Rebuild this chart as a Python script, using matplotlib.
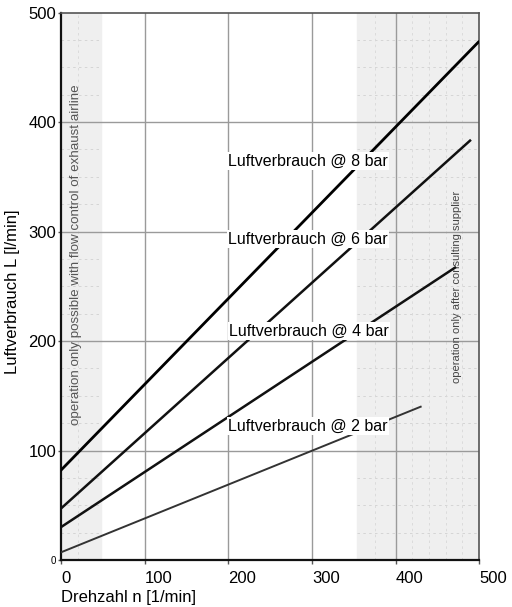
import matplotlib
matplotlib.use("Agg")
import matplotlib.pyplot as plt

plt.rcParams['font.family'] = ['Liberation Sans', 'DejaVu Sans']

# Luftverbrauch: Anfangs- und Endpunkte der Kennlinien
drehzahl_8 = [0, 499]
luft_8 = [82, 473]
drehzahl_6 = [0, 489]
luft_6 = [47, 383]
drehzahl_4 = [0, 471]
luft_4 = [30, 267]
drehzahl_2 = [0, 430]
luft_2 = [7, 140]

labels = ["Luftverbrauch @ 8 bar", "Luftverbrauch @ 6 bar",
          "Luftverbrauch @ 4 bar", "Luftverbrauch @ 2 bar"]
label_pos = [(200, 364), (200, 293), (201, 209), (200, 122)]

x_ticks = [0, 100, 200, 300, 400, 500]
y_ticks = [0, 100, 200, 300, 400, 500]

fig = plt.figure(figsize=(5.12, 6.07), dpi=100)
ax = fig.add_axes([0.119, 0.0774, 0.817, 0.902])
ax.set_xlim(0, 500)
ax.set_ylim(0, 500)

# graue Bereiche
ax.axvspan(0, 48, color='#efefef', zorder=0)
ax.axvspan(354, 500, color='#efefef', zorder=0)

# feines Raster nur in den grauen Bereichen
for yy in range(25, 500, 25):
    if yy % 100 == 0:
        continue
    ax.hlines(yy, 0, 48, colors='#d0d0d0', linewidth=0.6, linestyles=(0, (3, 4)), zorder=1)
    ax.hlines(yy, 354, 500, colors='#d0d0d0', linewidth=0.6, linestyles=(0, (3, 4)), zorder=1)
for xx in [20, 375, 420, 440, 460, 480]:
    ax.axvline(xx, color='#d8d8d8', linewidth=0.6, linestyle=(0, (3, 4)), zorder=1)

# Hauptraster
for xx in [100, 200, 300, 400]:
    ax.axvline(xx, color='#9a9a9a', linewidth=1.0, zorder=1)
for yy in [100, 200, 300, 400]:
    ax.axhline(yy, color='#9a9a9a', linewidth=1.0, zorder=1)

ax.plot(drehzahl_8, luft_8, color='black', linewidth=2.0, zorder=3)
ax.plot(drehzahl_6, luft_6, color='#111111', linewidth=1.8, zorder=3)
ax.plot(drehzahl_4, luft_4, color='#111111', linewidth=1.8, zorder=3)
ax.plot(drehzahl_2, luft_2, color='#333333', linewidth=1.4, zorder=3)

for txt, (xx, yy) in zip(labels, label_pos):
    ax.text(xx, yy, txt, fontsize=11.5, ha='left', va='center', zorder=4,
            bbox=dict(facecolor='white', edgecolor='none', pad=1.0))

ax.text(18, 279, "operation only possible with flow control of exhaust airline",
        rotation=90, fontsize=9.6, color='#555555', ha='center', va='center', zorder=2)
ax.text(474, 249, "operation only after consulting supplier",
        rotation=90, fontsize=8, color='#444444', ha='center', va='center', zorder=2)

ax.set_xticks(x_ticks)
ax.set_yticks(y_ticks)
ax.set_xticklabels([str(v) for v in x_ticks], fontsize=12, ha='left')
ax.set_yticklabels([str(v) for v in y_ticks], fontsize=12)
ax.get_yticklabels()[0].set_fontsize(7)
ax.tick_params(axis='x', length=3, width=1, color='#555555', pad=5)
ax.tick_params(axis='y', length=2, width=1, color='#555555', pad=1.5)

for side in ['left', 'bottom']:
    ax.spines[side].set_linewidth(1.6)
    ax.spines[side].set_color('#111111')
for side in ['top', 'right']:
    ax.spines[side].set_linewidth(1.2)
    ax.spines[side].set_color('#555555')

ax.set_ylabel("Luftverbrauch L [l/min]", fontsize=12)
ax.yaxis.set_label_coords(-0.098, 0.49)
ax.set_xlabel("Drehzahl n [1/min]", fontsize=12, ha='left', va='center')
ax.xaxis.set_label_coords(0.0, -0.069)

fig.savefig("out.png", dpi=100)
